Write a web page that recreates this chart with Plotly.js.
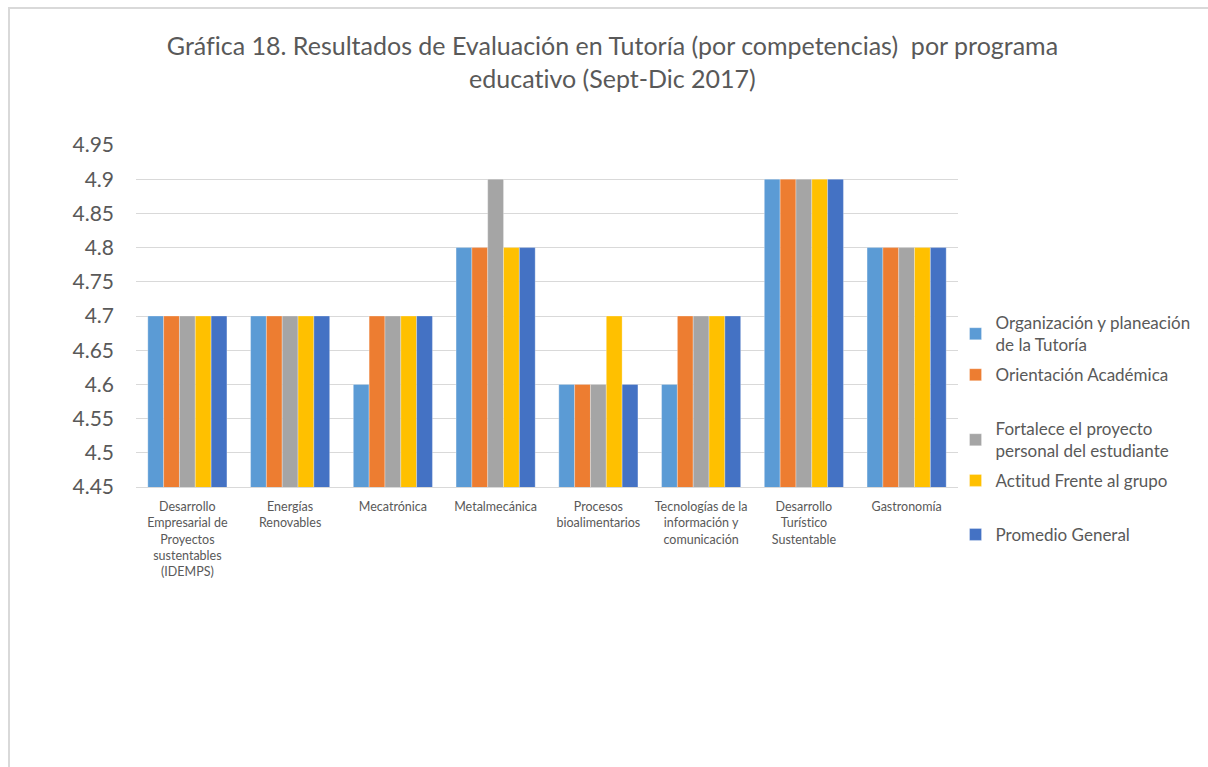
<!DOCTYPE html>
<html>
<head>
<meta charset="utf-8">
<script src="https://cdn.plot.ly/plotly-3.0.1.min.js"></script>
<style>
  html, body { margin: 0; padding: 0; background: #fff; }
  #wrap { position: relative; width: 1208px; height: 767px; overflow: hidden; }
  #chart { position: absolute; left: 0; top: 0; width: 1208px; height: 767px; }
  #chart text { font-variant-ligatures: none; font-feature-settings: "liga" 0, "clig" 0; }
  #frame { position: absolute; left: 8px; top: 7px; width: 1300px; height: 900px;
           border: 2px solid #d9d9d9; pointer-events: none; }
</style>
</head>
<body>
<div id="wrap">
  <div id="chart"></div>
  <div id="frame"></div>
</div>
<script>
const categories = [
  "Desarrollo<br>Empresarial de<br>Proyectos<br>sustentables<br>(IDEMPS)",
  "Energías<br>Renovables",
  "Mecatrónica",
  "Metalmecánica",
  "Procesos<br>bioalimentarios",
  "Tecnologías de la<br>información y<br>comunicación",
  "Desarrollo<br>Turístico<br>Sustentable",
  "Gastronomía"
];
const seriesNames = [
  "Organización y planeación<br>de la Tutoría",
  "Orientación Académica",
  "Fortalece el proyecto<br>personal del estudiante",
  "Actitud Frente al grupo",
  "Promedio General"
];
const organizacion = [4.7, 4.7, 4.6, 4.8, 4.6, 4.6, 4.9, 4.8];
const orientacion  = [4.7, 4.7, 4.7, 4.8, 4.6, 4.7, 4.9, 4.8];
const fortalece    = [4.7, 4.7, 4.7, 4.9, 4.6, 4.7, 4.9, 4.8];
const actitud      = [4.7, 4.7, 4.7, 4.8, 4.7, 4.7, 4.9, 4.8];
const promedio     = [4.7, 4.7, 4.7, 4.8, 4.6, 4.7, 4.9, 4.8];
const colors = ["#5B9BD5", "#ED7D31", "#A5A5A5", "#FFC000", "#4472C4"];

const seriesValues = [organizacion, orientacion, fortalece, actitud, promedio];
const FONT = "Lato, 'Liberation Sans', sans-serif";

// each legend entry gets its own legend box so it can be placed like the original
const legendIds = ["legend", "legend2", "legend3", "legend4", "legend5"];
const legendY = [0.447, 0.327, 0.137, 0.018, -0.14];

const traces = seriesValues.map((vals, i) => ({
  type: "bar",
  name: seriesNames[i],
  x: categories,
  y: vals,
  legend: legendIds[i],
  marker: { color: colors[i], line: { color: "rgba(255,255,255,0.6)", width: 0.5 } },
  hoverinfo: "x+y+name"
}));

const layout = {
  width: 1208,
  height: 767,
  paper_bgcolor: "#ffffff",
  plot_bgcolor: "#ffffff",
  font: { family: FONT, color: "#595959" },
  margin: { l: 136, r: 250, t: 145, b: 280 },
  title: {
    text: "Gráfica 18. Resultados de Evaluación en Tutoría (por competencias)  por programa<br>educativo (Sept-Dic 2017)",
    font: { family: FONT, size: 25, color: "#595959" },
    x: 0.507, xref: "container", xanchor: "center",
    y: 1 - 55 / 767, yref: "container", yanchor: "top"
  },
  barmode: "group",
  bargap: 0.23,
  bargroupgap: 0,
  xaxis: {
    type: "category",
    tickfont: { family: FONT, size: 12.5, color: "#595959" },
    showgrid: false,
    showline: true,
    linecolor: "#d9d9d9",
    linewidth: 1,
    ticks: "",
    ticklen: 0,
    ticklabelstandoff: 8,
    automargin: false
  },
  yaxis: {
    range: [4.45, 4.95],
    dtick: 0.05,
    tick0: 4.45,
    showgrid: true,
    gridcolor: "#d9d9d9",
    gridwidth: 1,
    zeroline: false,
    showline: false,
    ticks: "",
    tickfont: { family: FONT, size: 21, color: "#595959" },
    ticklabelstandoff: 21,
    automargin: false
  },
  showlegend: true
};

legendIds.forEach((id, i) => {
  layout[id] = {
    x: 0.997,
    xanchor: "left",
    y: legendY[i],
    yanchor: "middle",
    font: { family: FONT, size: 17, color: "#595959" },
    itemwidth: 30,
    bgcolor: "rgba(0,0,0,0)"
  };
});

Plotly.newPlot("chart", traces, layout, { displayModeBar: false, staticPlot: true });
</script>
</body>
</html>
